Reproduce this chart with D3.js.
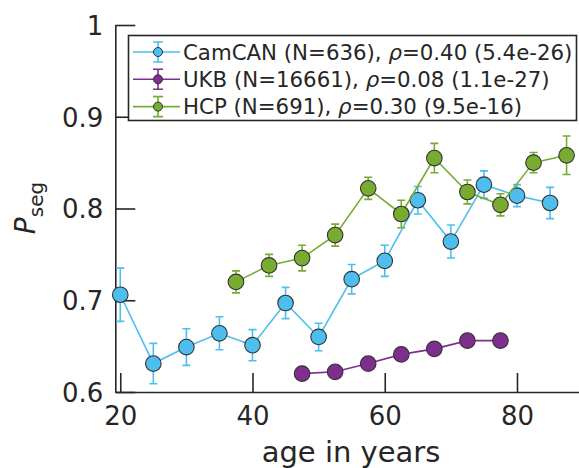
<!DOCTYPE html>
<html>
<head>
<meta charset="utf-8">
<script src="https://cdn.jsdelivr.net/npm/d3@7"></script>
<style>
	html, body { margin: 0; padding: 0; background: #fff; }
	svg { display: block; font-family: "DejaVu Sans", sans-serif; }
</style>
</head>
<body>
<div id="wrapper"></div>
<script>
// age bins (years) per dataset
const camcanAge = [20, 25, 30, 35, 40, 45, 50, 55, 60, 65, 70, 75, 80, 85];
const camcanVal = [0.706, 0.631, 0.649, 0.664, 0.651, 0.697, 0.660, 0.723, 0.743, 0.809, 0.764, 0.826, 0.814, 0.806];
const camcanErr = [0.029, 0.022, 0.020, 0.018, 0.017, 0.017, 0.015, 0.016, 0.017, 0.015, 0.018, 0.015, 0.012, 0.017];

const ukbAge = [47.5, 52.5, 57.5, 62.5, 67.5, 72.5, 77.5];
const ukbVal = [0.620, 0.622, 0.631, 0.641, 0.647, 0.656, 0.656];
const ukbErr = [0.002, 0.002, 0.002, 0.002, 0.002, 0.002, 0.002];

const hcpAge = [37.5, 42.5, 47.5, 52.5, 57.5, 62.5, 67.5, 72.5, 77.5, 82.5, 87.5];
const hcpVal = [0.720, 0.738, 0.746, 0.771, 0.822, 0.794, 0.855, 0.818, 0.804, 0.850, 0.858];
const hcpErr = [0.012, 0.012, 0.014, 0.012, 0.012, 0.015, 0.016, 0.013, 0.012, 0.011, 0.021];

const xTicks = [20, 40, 60, 80];
const yTicks = [0.6, 0.7, 0.8, 0.9, 1];

const seriesNames = ['CamCAN', 'UKB', 'HCP'];
const seriesN = [636, 16661, 691];
const seriesRho = ['0.40', '0.08', '0.30'];
const seriesP = ['5.4e-26', '1.1e-27', '9.5e-16'];
const seriesColors = ['#4dbeee', '#7e2f8e', '#77ac30'];

(() => {
	const width = 579, height = 468;
	const axisColor = '#262626';
	const svg = d3.select('#wrapper').append('svg')
		.attr('width', width)
		.attr('height', height);

	const x = d3.scaleLinear().domain([19.25, 89.5]).range([115.3, 579.8]);
	const y = d3.scaleLinear().domain([0.6, 1]).range([392, 25]);

	// axes (ticks point inward)
	const xAxis = svg.append('g')
		.attr('transform', `translate(0,${y(0.6)})`)
		.call(d3.axisBottom(x).tickValues(xTicks).tickSizeInner(-19).tickSizeOuter(0).tickPadding(15));
	const yAxis = svg.append('g')
		.attr('transform', `translate(${x.range()[0]},0)`)
		.call(d3.axisLeft(y).tickValues(yTicks).tickFormat(d3.format('~g')).tickSizeInner(-20).tickSizeOuter(0).tickPadding(12));

	[xAxis, yAxis].forEach((ax) => {
		ax.select('.domain').attr('stroke', axisColor).attr('stroke-width', 1.6);
		ax.selectAll('.tick line').attr('stroke', axisColor).attr('stroke-width', 1.6);
		ax.selectAll('.tick text')
			.attr('fill', axisColor)
			.style('font-size', '26px')
			.style('font-family', '"DejaVu Sans", sans-serif');
	});
	yAxis.selectAll('.tick text').attr('dy', '0.36em');

	// axis labels
	svg.append('text')
		.attr('x', 351)
		.attr('y', 462)
		.attr('text-anchor', 'middle')
		.attr('fill', axisColor)
		.style('font-size', '29px')
		.text('age in years');

	const yLabel = svg.append('text')
		.attr('transform', 'translate(35,208) rotate(-90)')
		.attr('text-anchor', 'middle')
		.attr('fill', axisColor)
		.style('font-size', '28px');
	yLabel.append('tspan').style('font-style', 'italic').text('P');
	yLabel.append('tspan')
		.attr('dy', 8)
		.style('font-size', '20px')
		.text('seg');

	const series = [
		{ age: camcanAge, val: camcanVal, err: camcanErr },
		{ age: ukbAge, val: ukbVal, err: ukbErr },
		{ age: hcpAge, val: hcpVal, err: hcpErr }
	].map((s, i) => ({
		color: seriesColors[i],
		points: s.age.map((a, j) => ({ age: a, val: s.val[j], err: s.err[j] }))
	}));

	const line = d3.line().x((d) => x(d.age)).y((d) => y(d.val));
	const cap = 4;

	const group = svg.selectAll('.series')
		.data(series)
		.enter()
		.append('g')
		.attr('class', 'series');

	group.append('path')
		.attr('d', (d) => line(d.points))
		.attr('fill', 'none')
		.attr('stroke', (d) => d.color)
		.attr('stroke-width', 1.6);

	group.selectAll('.err')
		.data((d) => d.points.map((p) => Object.assign({ color: d.color }, p)))
		.enter()
		.append('path')
		.attr('class', 'err')
		.attr('d', (d) => {
			const cx = x(d.age), y0 = y(d.val - d.err), y1 = y(d.val + d.err);
			return `M${cx},${y0}V${y1}M${cx - cap},${y0}H${cx + cap}M${cx - cap},${y1}H${cx + cap}`;
		})
		.attr('fill', 'none')
		.attr('stroke', (d) => d.color)
		.attr('stroke-width', 1.6);

	group.selectAll('circle')
		.data((d) => d.points.map((p) => Object.assign({ color: d.color }, p)))
		.enter()
		.append('circle')
		.attr('cx', (d) => x(d.age))
		.attr('cy', (d) => y(d.val))
		.attr('r', 7.8)
		.attr('fill', (d) => d.color)
		.attr('stroke', '#333')
		.attr('stroke-width', 1.1);

	// legend
	const legend = svg.append('g');
	legend.append('rect')
		.attr('x', 128.5)
		.attr('y', 35.5)
		.attr('width', 448)
		.attr('height', 85)
		.attr('fill', '#fff')
		.attr('stroke', axisColor)
		.attr('stroke-width', 1.6);

	const rows = legend.selectAll('.row')
		.data(seriesNames)
		.enter()
		.append('g')
		.attr('class', 'row')
		.attr('transform', (d, i) => `translate(0,${52 + i * 27.3})`);

	rows.append('line')
		.attr('x1', 133).attr('x2', 180)
		.attr('stroke', (d, i) => seriesColors[i])
		.attr('stroke-width', 1.6);
	rows.append('path')
		.attr('d', 'M158,-10V10M153,-10H163M153,10H163')
		.attr('fill', 'none')
		.attr('stroke', (d, i) => seriesColors[i])
		.attr('stroke-width', 1.6);
	rows.append('circle')
		.attr('cx', 158)
		.attr('r', 4.5)
		.attr('fill', (d, i) => seriesColors[i])
		.attr('stroke', '#333')
		.attr('stroke-width', 1);

	const labels = rows.append('text')
		.attr('x', 183)
		.attr('dy', '0.36em')
		.attr('fill', axisColor)
		.style('font-size', '21.3px');
	labels.append('tspan').text((d, i) => `${d} (N=${seriesN[i]}), `);
	labels.append('tspan').style('font-style', 'italic').text('ρ');
	labels.append('tspan').text((d, i) => `=${seriesRho[i]} (${seriesP[i]})`);
})();
</script>
</body>
</html>
